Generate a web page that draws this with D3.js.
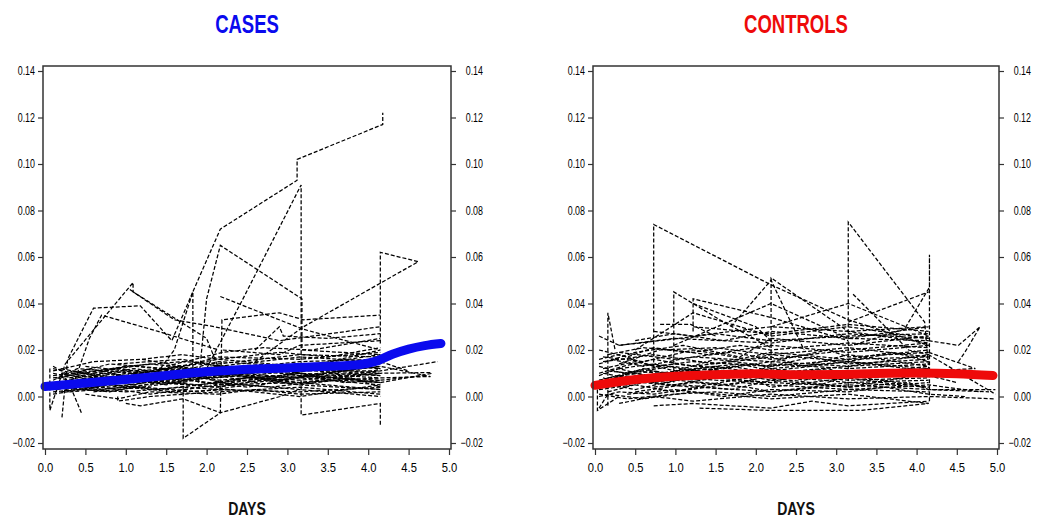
<!DOCTYPE html>
<html>
<head>
<meta charset="utf-8">
<script src="https://cdn.jsdelivr.net/npm/d3@7"></script>
<style>
    body { margin: 0; background: #fff; }
    svg { display: block; font-family: "Liberation Sans", Arial, sans-serif; }
</style>
</head>
<body>
<svg id="chart" width="1039" height="519"></svg>
<script>
// tick values
const dayTicks = [0, 0.5, 1, 1.5, 2, 2.5, 3, 3.5, 4, 4.5, 5];
const valueTicks = [-0.02, 0, 0.02, 0.04, 0.06, 0.08, 0.10, 0.12, 0.14];
const xTitle = "DAYS";

// smoothed mean curves [day, value]
const casesSmooth = [[0, 0.0043], [0.5, 0.0058], [1, 0.0073], [1.5, 0.009], [2, 0.0106], [2.5, 0.0117], [3, 0.0123],
    [3.5, 0.013], [3.9, 0.0138], [4.1, 0.0152], [4.3, 0.0182], [4.5, 0.0204], [4.7, 0.0219], [4.9, 0.0228]];
const controlsSmooth = [[0, 0.0048], [0.5, 0.0073], [1, 0.0087], [1.5, 0.0094], [2, 0.0098], [2.5, 0.0094], [3, 0.0095],
    [3.5, 0.0099], [4, 0.0101], [4.5, 0.0098], [4.95, 0.009]];

// individual subject trajectories, cases [day, value]
const casesSubjects = [
    [[1.3, 0.006], [1.6, 0.02], [1.83, 0.045], [2.17, 0.072], [3.12, 0.093], [3.12, 0.102], [4.18, 0.117], [4.18, 0.122]],
    [[2.0, 0.012], [2.45, 0.042], [3.17, 0.091], [3.17, -0.008], [4.15, -0.003], [4.15, -0.013]],
    [[1.9, 0.006], [2.0, 0.042], [2.17, 0.065], [3.18, 0.042], [3.18, 0.02], [4.15, 0.018]],
    [[2.6, 0.015], [3.2, 0.030], [4.62, 0.058], [4.15, 0.062], [4.15, 0.022]],
    [[0.21, -0.009], [0.28, 0.016], [0.6, 0.038], [1.18, 0.039], [1.57, 0.024], [1.83, 0.045], [1.83, 0.01]],
    [[0.06, 0.012], [0.06, -0.006], [0.25, 0.014], [1.09, 0.049], [1.09, 0.045], [2.0, 0.025], [2.15, 0.012]],
    [[0.45, -0.007], [0.33, 0.003], [0.55, 0.025], [0.7, 0.035], [1.4, 0.028], [2.15, 0.02]],
    [[1.71, 0.012], [1.71, -0.018], [2.17, -0.007], [2.19, 0.033], [2.9, 0.036], [3.2, 0.033], [4.15, 0.035]],
    [[2.17, 0.043], [3.19, 0.029], [4.15, 0.020]],
    [[2.6, 0.02], [2.9, 0.030], [2.95, 0.026], [3.5, 0.025], [4.15, 0.027]],
    [[1.05, 0.046], [1.6, 0.033], [2.1, 0.03], [2.9, 0.024], [4.15, 0.030]],
    [[1.0, -0.003], [1.18, -0.004], [1.71, -0.001], [2.17, -0.007], [2.91, 0.0], [3.15, 0.003]],
    [[0.1, 0.006], [0.5, 0.004], [1.0, 0.008], [1.7, 0.006], [2.15, 0.009], [3.15, 0.007], [4.15, 0.010]],
    [[0.15, 0.003], [0.6, 0.007], [1.1, 0.005], [1.7, 0.010], [2.2, 0.006], [2.9, 0.011], [3.6, 0.008], [4.15, 0.006]],
    [[0.2, 0.010], [0.7, 0.006], [1.2, 0.011], [2.15, 0.008], [2.7, 0.012], [3.15, 0.009], [4.15, 0.013]],
    [[0.1, 0.001], [0.45, 0.003], [1.0, 0.002], [1.7, 0.004], [2.15, 0.003], [3.15, 0.002], [4.15, 0.004]],
    [[0.3, 0.008], [0.9, 0.012], [1.5, 0.009], [2.15, 0.013], [3.15, 0.011], [3.8, 0.014], [4.15, 0.012]],
    [[0.1, 0.005], [0.5, 0.009], [1.2, 0.007], [1.9, 0.005], [2.5, 0.008], [3.15, 0.006], [4.15, 0.008], [4.77, 0.0086]],
    [[0.2, 0.002], [0.8, 0.005], [1.4, 0.003], [2.15, 0.006], [2.8, 0.004], [3.5, 0.007], [4.15, 0.005]],
    [[0.1, 0.009], [0.6, 0.011], [1.3, 0.014], [2.15, 0.011], [3.15, 0.015], [4.15, 0.016]],
    [[0.35, 0.004], [1.0, 0.006], [1.7, 0.008], [2.4, 0.010], [3.15, 0.008], [4.15, 0.011], [4.86, 0.015]],
    [[0.1, 0.007], [0.4, 0.012], [1.1, 0.010], [1.8, 0.012], [2.15, 0.015], [3.0, 0.013], [4.15, 0.009]],
    [[0.5, 0.001], [0.9, -0.001], [1.3, 0.002], [2.15, 0.001], [2.6, 0.003], [3.15, 0.001], [4.15, 0.002]],
    [[0.2, 0.006], [0.7, 0.003], [1.5, 0.006], [2.15, 0.004], [3.15, 0.010], [3.7, 0.006], [4.15, 0.007]],
    [[0.1, 0.011], [0.6, 0.015], [1.2, 0.016], [1.7, 0.013], [2.15, 0.017], [3.15, 0.016], [4.15, 0.019]],
    [[0.3, 0.005], [0.8, 0.008], [1.6, 0.011], [2.15, 0.007], [2.9, 0.009], [3.4, 0.012], [4.15, 0.010], [4.77, 0.0103]],
    [[0.15, 0.008], [0.5, 0.006], [1.0, 0.010], [1.7, 0.009], [2.3, 0.011], [3.15, 0.013], [4.15, 0.014]],
    [[0.9, 0.0], [0.9, -0.002], [1.3, 0.0], [2.15, 0.002], [3.15, 0.004], [4.15, 0.001]],
    [[0.4, 0.009], [1.1, 0.006], [1.8, 0.010], [2.15, 0.012], [2.8, 0.010], [3.15, 0.012], [4.15, 0.015], [4.5, 0.011]],
    [[0.1, 0.004], [0.7, 0.010], [1.4, 0.008], [2.0, 0.010], [2.6, 0.006], [3.3, 0.009], [4.15, 0.006]],
    [[0.25, 0.007], [0.8, 0.004], [1.5, 0.007], [2.15, 0.010], [3.15, 0.006], [3.9, 0.009], [4.15, 0.012]],
    [[0.1, 0.013], [0.3, 0.009], [1.0, 0.013], [1.7, 0.015], [2.15, 0.014], [3.15, 0.018], [4.15, 0.017]],
    [[1.2, 0.016], [1.7, 0.018], [2.15, 0.016], [2.9, 0.019], [3.5, 0.017], [4.15, 0.021]],
    [[0.6, 0.002], [1.2, 0.004], [1.9, 0.002], [2.5, 0.005], [3.15, 0.003], [4.15, 0.000]],
    [[2.2, 0.020], [2.9, 0.018], [3.15, 0.022], [4.15, 0.024]],
    [[1.5, 0.013], [2.2, 0.019], [2.7, 0.021], [3.3, 0.020], [4.15, 0.025]],
    [[0.2, 0.012], [0.6, 0.009], [1.1, 0.012], [1.9, 0.008], [2.15, 0.010], [3.0, 0.008], [4.15, 0.013], [4.77, 0.0086]],
    [[0.1, 0.008], [0.5, 0.010], [1.0, 0.006], [1.6, 0.008], [2.15, 0.005], [2.7, 0.008], [3.15, 0.010], [4.15, 0.008]],
    [[0.15, 0.005], [0.6, 0.004], [1.2, 0.009], [1.7, 0.007], [2.4, 0.009], [3.15, 0.005], [3.8, 0.008], [4.15, 0.004]],
    [[0.25, 0.003], [0.7, 0.007], [1.3, 0.006], [2.0, 0.008], [2.15, 0.006], [3.15, 0.009], [4.15, 0.007], [4.7, 0.009]],
    [[0.1, 0.010], [0.45, 0.007], [1.0, 0.011], [1.7, 0.012], [2.15, 0.010], [2.8, 0.013], [3.15, 0.011], [4.15, 0.011]],
    [[0.3, 0.006], [0.9, 0.009], [1.5, 0.005], [2.15, 0.011], [2.9, 0.007], [3.5, 0.010], [4.15, 0.009]],
    [[0.2, 0.004], [0.8, 0.002], [1.4, 0.006], [2.1, 0.004], [2.7, 0.007], [3.15, 0.005], [4.15, 0.003]],
    [[0.6, 0.010], [1.1, 0.013], [1.7, 0.011], [2.15, 0.009], [3.15, 0.012], [3.6, 0.010], [4.15, 0.016]],
    [[0.1, 0.003], [0.5, 0.006], [1.2, 0.004], [1.8, 0.007], [2.5, 0.004], [3.15, 0.008], [4.15, 0.006], [4.8, 0.010]],
    [[0.35, 0.011], [0.9, 0.008], [1.6, 0.013], [2.15, 0.009], [3.0, 0.011], [3.15, 0.014], [4.15, 0.012]],
    [[0.1, 0.002], [0.7, 0.004], [1.3, 0.001], [2.15, 0.005], [3.15, 0.006], [4.15, 0.003]],
    [[0.5, 0.013], [1.2, 0.010], [1.9, 0.014], [2.6, 0.012], [3.15, 0.013], [4.15, 0.018]],
    [[0.2, 0.008], [0.55, 0.012], [1.1, 0.008], [1.7, 0.011], [2.15, 0.013], [2.9, 0.010], [3.4, 0.008], [4.15, 0.010]],
    [[0.9, 0.014], [1.7, 0.016], [2.15, 0.013], [3.15, 0.017], [4.15, 0.015]],
    [[0.3, 0.002], [1.0, 0.004], [1.6, 0.002], [2.3, 0.003], [3.15, 0.000], [4.15, 0.005]],
    [[0.1, 0.012], [0.35, 0.010], [0.8, 0.014], [1.5, 0.012], [2.15, 0.016], [2.8, 0.014], [3.15, 0.012], [4.15, 0.020]]
];

// individual subject trajectories, controls [day, value]
const controlsSubjects = [
    [[0.73, 0.012], [0.73, 0.074], [2.19, 0.048], [3.15, 0.033], [4.15, 0.022]],
    [[2.19, 0.008], [2.19, 0.051], [3.15, 0.028], [4.15, 0.023]],
    [[3.15, 0.004], [3.15, 0.075], [4.1, 0.032], [4.15, 0.012]],
    [[4.16, -0.002], [4.16, 0.061], [4.16, 0.047], [3.85, 0.029], [3.2, 0.022]],
    [[0.98, 0.006], [0.98, 0.045], [1.6, 0.032], [2.19, 0.021]],
    [[1.22, 0.028], [1.22, 0.042], [2.19, 0.034], [3.15, 0.024]],
    [[0.16, -0.004], [0.16, 0.036], [0.25, 0.02]],
    [[4.15, 0.024], [4.52, 0.022], [4.79, 0.030], [4.6, 0.019], [4.52, 0.015]],
    [[3.15, 0.032], [4.15, 0.045]],
    [[3.21, 0.044], [3.9, 0.02], [4.15, 0.018]],
    [[1.22, 0.04], [2.0, 0.03], [2.19, 0.024]],
    [[1.69, 0.030], [2.19, 0.05], [2.6, 0.02]],
    [[0.81, 0.031], [1.19, 0.031], [1.5, 0.026]],
    [[0.03, 0.003], [0.03, -0.006], [0.3, 0.0]],
    [[4.15, 0.019], [4.73, 0.012]],
    [[0.5, 0.02], [1.22, 0.036], [2.19, 0.026], [3.15, 0.03], [4.15, 0.025]],
    [[0.98, 0.022], [2.19, 0.040], [3.15, 0.025], [4.15, 0.03]],
    [[2.19, 0.03], [3.15, 0.040], [4.15, 0.026]],
    [[0.05, 0.004], [0.3, 0.008], [0.73, 0.006], [1.22, 0.010], [2.19, 0.008], [3.15, 0.011], [4.15, 0.009]],
    [[0.1, 0.012], [0.5, 0.015], [1.0, 0.011], [1.5, 0.016], [2.19, 0.013], [2.7, 0.017], [3.15, 0.014], [4.15, 0.016]],
    [[0.05, 0.0], [0.3, 0.002], [0.73, 0.001], [1.3, 0.004], [2.19, 0.002], [3.15, 0.005], [4.15, 0.003], [4.98, 0.003]],
    [[0.16, 0.018], [0.6, 0.021], [1.22, 0.019], [1.8, 0.022], [2.19, 0.020], [3.15, 0.023], [4.15, 0.021]],
    [[0.05, 0.007], [0.4, 0.010], [0.98, 0.013], [1.6, 0.009], [2.19, 0.012], [2.9, 0.008], [3.15, 0.010], [4.15, 0.012]],
    [[0.3, -0.003], [0.73, 0.0], [1.22, -0.002], [2.19, 0.001], [3.15, -0.001], [4.15, 0.0], [4.98, -0.001]],
    [[0.1, 0.015], [0.73, 0.018], [1.5, 0.014], [2.19, 0.019], [3.15, 0.016], [3.7, 0.019], [4.15, 0.015]],
    [[0.2, 0.005], [0.5, 0.003], [1.0, 0.007], [1.7, 0.005], [2.19, 0.009], [3.15, 0.006], [4.15, 0.007]],
    [[0.05, 0.010], [0.35, 0.013], [0.73, 0.016], [1.22, 0.013], [2.19, 0.017], [2.6, 0.013], [3.15, 0.018], [4.15, 0.013]],
    [[0.5, 0.024], [0.98, 0.027], [1.6, 0.024], [2.19, 0.028], [3.15, 0.025], [4.15, 0.024]],
    [[0.16, 0.002], [0.6, 0.006], [1.22, 0.004], [1.9, 0.008], [2.19, 0.004], [3.15, 0.008], [3.8, 0.005], [4.15, 0.006]],
    [[0.05, 0.020], [0.4, 0.017], [0.73, 0.021], [1.4, 0.018], [2.19, 0.022], [3.15, 0.019], [4.15, 0.022]],
    [[0.3, 0.009], [0.9, 0.006], [1.5, 0.011], [2.19, 0.007], [2.8, 0.011], [3.15, 0.008], [4.15, 0.011], [4.73, 0.012]],
    [[0.73, -0.004], [1.22, -0.003], [2.19, -0.005], [2.7, -0.002], [3.15, -0.004], [4.15, -0.002]],
    [[0.1, 0.006], [0.5, 0.011], [1.1, 0.009], [1.7, 0.013], [2.19, 0.010], [3.15, 0.013], [4.15, 0.018], [4.98, 0.001]],
    [[0.05, 0.026], [0.3, 0.022], [0.98, 0.025], [2.19, 0.023], [3.15, 0.027], [4.15, 0.025]],
    [[0.4, 0.001], [1.0, 0.003], [1.6, 0.0], [2.19, 0.003], [3.15, 0.002], [3.6, 0.004], [4.15, 0.001], [4.6, 0.0]],
    [[0.16, 0.011], [0.73, 0.009], [1.3, 0.012], [2.0, 0.010], [2.19, 0.014], [3.15, 0.012], [4.15, 0.014]],
    [[0.2, 0.016], [0.6, 0.013], [1.22, 0.017], [2.19, 0.015], [2.9, 0.020], [3.15, 0.017], [4.15, 0.019]],
    [[1.22, 0.030], [2.19, 0.027], [3.15, 0.031], [4.15, 0.028]],
    [[0.05, 0.003], [0.5, 0.005], [0.98, 0.002], [1.8, 0.006], [2.19, 0.005], [3.15, 0.003], [4.15, 0.005], [4.8, 0.002]],
    [[0.3, 0.014], [0.8, 0.020], [1.5, 0.021], [2.19, 0.018], [3.15, 0.021], [4.15, 0.017]],
    [[0.73, 0.028], [1.22, 0.026], [2.19, 0.030], [3.15, 0.028], [4.15, 0.030]],
    [[0.1, 0.008], [0.4, 0.005], [0.73, 0.009], [1.5, 0.007], [2.19, 0.006], [2.5, 0.009], [3.15, 0.007], [4.15, 0.008]],
    [[0.05, -0.005], [0.16, 0.001], [0.6, -0.001], [1.22, 0.002], [2.19, -0.001], [3.15, 0.001], [4.15, -0.003]],
    [[0.3, 0.019], [0.98, 0.016], [1.7, 0.019], [2.19, 0.016], [3.15, 0.020], [4.15, 0.023]],
    [[1.3, -0.005], [2.19, -0.006], [3.3, -0.006], [4.15, -0.003]],
    [[0.16, 0.007], [0.6, 0.012], [1.22, 0.007], [1.9, 0.011], [2.19, 0.008], [3.15, 0.004], [4.15, 0.010]],
    [[0.05, 0.014], [0.5, 0.019], [1.1, 0.022], [1.8, 0.017], [2.19, 0.025], [3.15, 0.022], [4.15, 0.026]],
    [[0.05, 0.009], [0.3, 0.012], [0.73, 0.008], [1.22, 0.011], [1.8, 0.009], [2.19, 0.011], [3.15, 0.009], [4.15, 0.010]],
    [[0.16, 0.004], [0.5, 0.007], [0.98, 0.005], [1.5, 0.008], [2.19, 0.006], [2.8, 0.005], [3.15, 0.009], [4.15, 0.004]],
    [[0.3, 0.012], [0.73, 0.014], [1.22, 0.011], [2.0, 0.014], [2.19, 0.012], [3.15, 0.015], [4.15, 0.012]],
    [[0.05, 0.001], [0.4, -0.001], [0.98, 0.001], [1.5, 0.002], [2.19, 0.000], [3.15, 0.003], [4.15, 0.002]],
    [[0.1, 0.017], [0.6, 0.015], [1.22, 0.020], [1.9, 0.016], [2.19, 0.018], [3.15, 0.015], [3.6, 0.018], [4.15, 0.020]],
    [[0.16, 0.008], [0.73, 0.011], [1.3, 0.008], [2.19, 0.010], [2.6, 0.007], [3.15, 0.011], [4.15, 0.009], [4.5, 0.006]],
    [[0.05, 0.013], [0.35, 0.010], [0.98, 0.014], [1.6, 0.012], [2.19, 0.015], [3.15, 0.013], [4.15, 0.015]],
    [[0.5, 0.002], [1.1, 0.005], [1.7, 0.003], [2.19, 0.007], [3.15, 0.004], [3.9, 0.006], [4.15, 0.003], [4.9, 0.002]],
    [[0.3, 0.022], [0.8, 0.024], [1.5, 0.027], [2.19, 0.024], [3.15, 0.026], [4.15, 0.027]],
    [[0.1, 0.010], [0.4, 0.008], [0.9, 0.010], [1.5, 0.013], [2.19, 0.009], [2.9, 0.012], [3.15, 0.009], [4.15, 0.013]],
    [[0.73, 0.004], [1.22, 0.006], [1.9, 0.004], [2.19, 0.002], [3.15, 0.006], [4.15, 0.004]],
    [[0.05, 0.016], [0.3, 0.018], [0.73, 0.013], [1.22, 0.015], [2.19, 0.013], [3.15, 0.016], [4.15, 0.017]],
    [[0.2, 0.006], [0.6, 0.009], [1.22, 0.012], [1.8, 0.014], [2.19, 0.011], [2.7, 0.013], [3.15, 0.015], [4.15, 0.011]]
];

const panels = [
    { title: "CASES", color: "#0a0aee", subjects: casesSubjects, smooth: casesSmooth, left: 43, right: 451 },
    { title: "CONTROLS", color: "#ee0a0a", subjects: controlsSubjects, smooth: controlsSmooth, left: 593, right: 999 }
];

const frameTop = 66, frameBottom = 449;
const svg = d3.select("#chart");
const fmtY = d3.format(".2f");
const fmtX = d3.format(".1f");

// squeezes text horizontally, the original uses a condensed font
function squeeze(sel, factor) {
    sel.each(function() {
        const w = this.getComputedTextLength();
        d3.select(this).attr("textLength", w * factor).attr("lengthAdjust", "spacingAndGlyphs");
    });
}

panels.forEach(function(p) {
    const g = svg.append("g");
    const x = d3.scaleLinear().domain([0, 5]).range([p.left + 2, p.right - 2]);
    const y = d3.scaleLinear().domain([-0.02, 0.14]).range([443, 71]);
    const mid = (p.left + p.right) / 2;

    // title
    g.append("text")
        .attr("x", mid)
        .attr("y", 33)
        .attr("text-anchor", "middle")
        .style("font-size", "25px")
        .style("font-weight", "bold")
        .style("fill", p.color)
        .text(p.title)
        .call(squeeze, 0.74);

    // clip for the data
    const clipId = "clip-" + p.title;
    g.append("clipPath").attr("id", clipId)
        .append("rect")
        .attr("x", p.left).attr("y", frameTop)
        .attr("width", p.right - p.left).attr("height", frameBottom - frameTop);

    const line = d3.line().x(d => x(d[0])).y(d => y(d[1]));

    // subject trajectories
    g.append("g").attr("clip-path", `url(#${clipId})`)
        .selectAll("path")
        .data(p.subjects)
        .join("path")
        .attr("d", line)
        .attr("fill", "none")
        .attr("stroke", "#000")
        .attr("stroke-width", 1.25)
        .attr("stroke-dasharray", "4,2");

    // smoothed mean
    g.append("path")
        .datum(p.smooth)
        .attr("d", line.curve(d3.curveMonotoneX))
        .attr("fill", "none")
        .attr("stroke", p.color)
        .attr("stroke-width", 9)
        .attr("stroke-linecap", "round");

    // left axis
    const leftAxis = g.append("g")
        .attr("transform", `translate(${p.left},0)`)
        .call(d3.axisLeft(y).tickValues(valueTicks).tickSize(5).tickPadding(3).tickFormat(fmtY));
    // right axis
    const rightAxis = g.append("g")
        .attr("transform", `translate(${p.right},0)`)
        .call(d3.axisRight(y).tickValues(valueTicks).tickSize(5).tickPadding(16).tickFormat(fmtY));
    rightAxis.selectAll("text").attr("text-anchor", "end").attr("x", 32);
    // bottom axis
    const bottomAxis = g.append("g")
        .attr("transform", `translate(0,${frameBottom})`)
        .call(d3.axisBottom(x).tickValues(dayTicks).tickSize(6).tickPadding(8).tickFormat(fmtX));

    [leftAxis, rightAxis].forEach(function(a) {
        a.select(".domain").remove();
        a.selectAll("line").attr("stroke", "#333").attr("stroke-width", 1.2);
        a.selectAll("text").style("font-size", "12px").style("font-family", "inherit").attr("fill", "#000")
            .call(squeeze, 0.74);
    });
    bottomAxis.select(".domain").remove();
    bottomAxis.selectAll("line").attr("stroke", "#333").attr("stroke-width", 1.2);
    bottomAxis.selectAll("text").style("font-size", "13px").style("font-family", "inherit").attr("fill", "#000")
        .call(squeeze, 0.86);

    // frame
    g.append("rect")
        .attr("x", p.left).attr("y", frameTop)
        .attr("width", p.right - p.left).attr("height", frameBottom - frameTop)
        .attr("fill", "none")
        .attr("stroke", "#333")
        .attr("stroke-width", 1.5);

    // x title
    g.append("text")
        .attr("x", mid)
        .attr("y", 515)
        .attr("text-anchor", "middle")
        .style("font-size", "18px")
        .style("font-weight", "bold")
        .style("fill", "#111")
        .text(xTitle)
        .call(squeeze, 0.78);
});
</script>
</body>
</html>
